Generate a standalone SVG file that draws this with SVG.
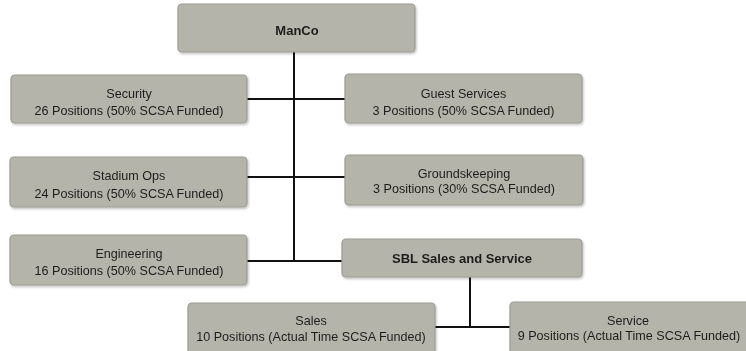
<svg xmlns="http://www.w3.org/2000/svg" width="746" height="351" viewBox="0 0 746 351">
<style>
.box{fill:#b4b4aa;stroke:#9c9c94;stroke-width:1.2}
.t{font-family:"Liberation Sans",Arial,sans-serif;font-size:12.6px;fill:#1e1e1e;text-anchor:middle}
.b{font-weight:bold;font-size:13px}
.c{stroke:#111;stroke-width:2;fill:none}
</style>
<defs>
<filter id="sh" x="-5%" y="-10%" width="110%" height="130%"><feDropShadow dx="1" dy="1.5" stdDeviation="1.2" flood-color="#000" flood-opacity="0.25"/></filter>
</defs>
<rect width="746" height="351" fill="#ffffff"/>
<g id="connectors">
<path class="c" d="M294 52 V262"/>
<path class="c" d="M247 99 H345"/>
<path class="c" d="M247 177 H345"/>
<path class="c" d="M247 261 H342"/>
<path class="c" d="M470 277 V327"/>
<path class="c" d="M435 327 H510"/>
</g>
<g id="manco" filter="url(#sh)">
<rect class="box" x="178" y="4" width="237" height="48" rx="4"/>
<text class="t b" x="297" y="34.5">ManCo</text>
</g>
<g id="security" filter="url(#sh)">
<rect class="box" x="11" y="75" width="236" height="48" rx="4"/>
<text class="t" x="129" y="97.5">Security</text>
<text class="t" x="129" y="114.5">26 Positions (50% SCSA Funded)</text>
</g>
<g id="guest-services" filter="url(#sh)">
<rect class="box" x="345" y="74" width="237" height="49" rx="4"/>
<text class="t" x="463.5" y="97.5">Guest Services</text>
<text class="t" x="463.5" y="114.5">3 Positions (50% SCSA Funded)</text>
</g>
<g id="stadium-ops" filter="url(#sh)">
<rect class="box" x="10" y="157" width="237" height="50" rx="4"/>
<text class="t" x="129" y="179.5">Stadium Ops</text>
<text class="t" x="129" y="197.5">24 Positions (50% SCSA Funded)</text>
</g>
<g id="groundskeeping" filter="url(#sh)">
<rect class="box" x="345" y="155" width="238" height="50" rx="4"/>
<text class="t" x="464" y="177.5">Groundskeeping</text>
<text class="t" x="464" y="193">3 Positions (30% SCSA Funded)</text>
</g>
<g id="engineering" filter="url(#sh)">
<rect class="box" x="10" y="235" width="237" height="50" rx="4"/>
<text class="t" x="129" y="257.5">Engineering</text>
<text class="t" x="129" y="274.5">16 Positions (50% SCSA Funded)</text>
</g>
<g id="sbl" filter="url(#sh)">
<rect class="box" x="342" y="239" width="240" height="38" rx="4"/>
<text class="t b" x="462" y="262.5">SBL Sales and Service</text>
</g>
<g id="sales" filter="url(#sh)">
<rect class="box" x="188" y="303" width="247" height="52" rx="4"/>
<text class="t" x="311" y="324.5">Sales</text>
<text class="t" x="311" y="341">10 Positions (Actual Time SCSA Funded)</text>
</g>
<g id="service" filter="url(#sh)">
<rect class="box" x="510" y="302" width="245" height="53" rx="4"/>
<text class="t" x="628" y="324.5">Service</text>
<text class="t" x="629" y="340">9 Positions (Actual Time SCSA Funded)</text>
</g>
</svg>
